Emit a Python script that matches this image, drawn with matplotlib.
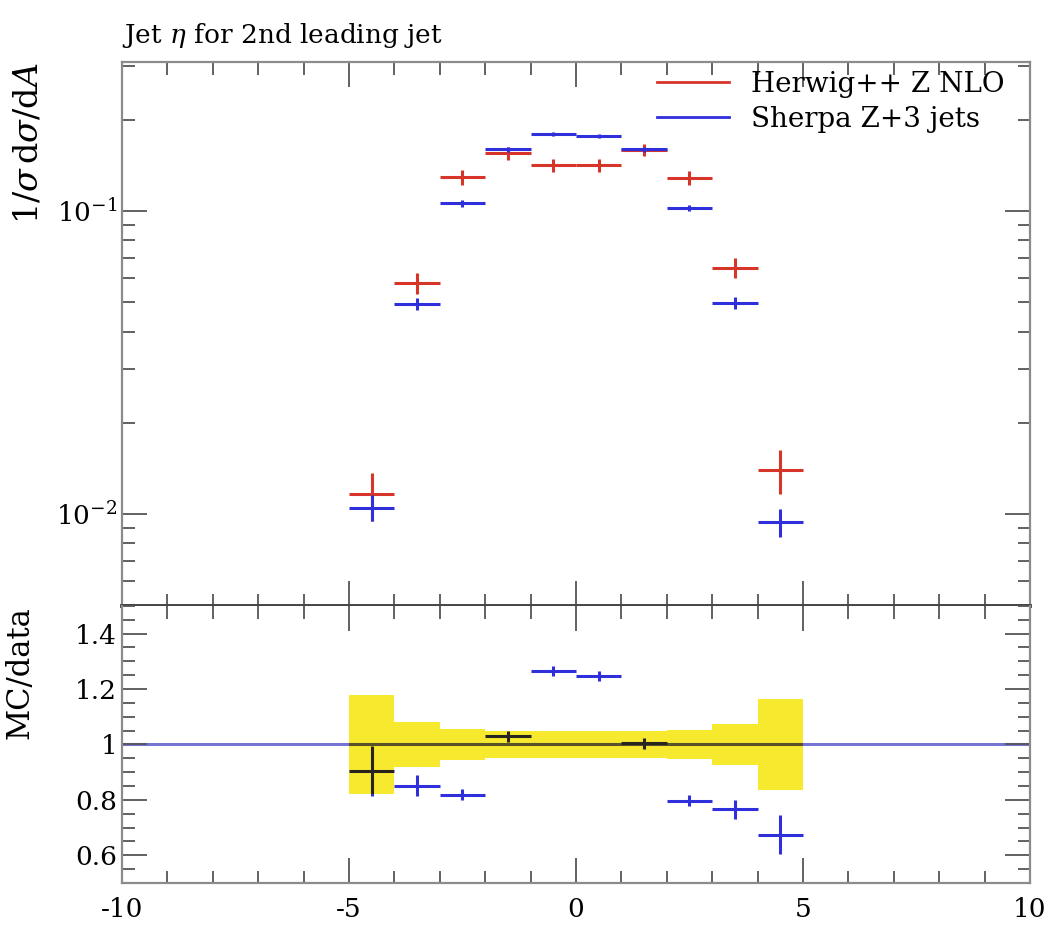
import matplotlib
matplotlib.use('Agg')
import matplotlib.pyplot as plt
from matplotlib.ticker import MultipleLocator, LogLocator, NullFormatter
import numpy as np

# eta bins of the 2nd leading jet
bin_edges = [-5, -4, -3, -2, -1, 0, 1, 2, 3, 4, 5]
eta_centres = [-4.5, -3.5, -2.5, -1.5, -0.5, 0.5, 1.5, 2.5, 3.5, 4.5]

# normalised cross-sections
herwig = [0.0116, 0.058, 0.1295, 0.155, 0.1415, 0.1415, 0.159, 0.1285, 0.065, 0.01395]
sherpa = [0.0105, 0.0494, 0.106, 0.1595, 0.179, 0.1766, 0.1596, 0.1023, 0.0498, 0.00941]

# relative uncertainties
herwig_rel = [0.18, 0.08, 0.056, 0.048, 0.048, 0.048, 0.048, 0.052, 0.075, 0.165]
sherpa_rel = [0.10, 0.045, 0.025, 0.02, 0.015, 0.015, 0.02, 0.025, 0.045, 0.105]

labels = ['Herwig++ Z NLO', 'Sherpa Z+3 jets']

red = '#d8352a'
blue = '#2f2fdc'
yellow = '#f6e92e'
frame = '#8c8c8c'

plt.rcParams['font.family'] = 'DejaVu Serif'
plt.rcParams['mathtext.fontset'] = 'dejavuserif'
plt.rcParams['font.size'] = 19


def style_axis(ax):
    for s in ax.spines.values():
        s.set_color(frame)
        s.set_linewidth(1.6)
    ax.tick_params(which='both', direction='in', top=True, right=True, color='#555555')
    ax.tick_params(which='major', length=18, width=1.3)
    ax.tick_params(which='minor', length=9, width=1.3)
    ax.xaxis.set_major_locator(MultipleLocator(5))
    ax.xaxis.set_minor_locator(MultipleLocator(1))


def main():
    x = np.array(eta_centres)
    h = np.array(herwig)
    s = np.array(sherpa)
    h_err = h * np.array(herwig_rel)
    s_err = s * np.array(sherpa_rel)

    fig = plt.figure(figsize=(10.51, 9.33), dpi=100)
    ax = fig.add_axes([0.116, 0.3505, 0.864, 0.583])
    rax = fig.add_axes([0.116, 0.0536, 0.864, 0.297], sharex=ax)

    # main distribution
    ax.errorbar(x, h, xerr=0.5, yerr=h_err, fmt='none', ecolor=red, elinewidth=2.2, capsize=0)
    ax.errorbar(x, s, xerr=0.5, yerr=s_err, fmt='none', ecolor=blue, elinewidth=2.2, capsize=0)
    ax.plot([], [], color=red, lw=2, label=labels[0])
    ax.plot([], [], color=blue, lw=2, label=labels[1])
    ax.set_yscale('log')
    ax.set_xlim(-10, 10)
    ax.set_ylim(0.00497, 0.31)
    ax.yaxis.set_major_locator(LogLocator(base=10, numticks=10))
    ax.yaxis.set_minor_locator(LogLocator(base=10, subs=np.arange(2, 10), numticks=10))
    ax.yaxis.set_minor_formatter(NullFormatter())
    style_axis(ax)
    ax.tick_params(labelbottom=False)
    ax.set_ylabel(r'$1/\sigma\,\mathrm{d}\sigma/\mathrm{d}A$', loc='top', fontsize=24)
    ax.yaxis.set_label_coords(-0.085, 1.0)
    ax.set_title(r'Jet $\eta$ for 2nd leading jet', loc='left', fontsize=19, pad=14)
    ax.legend(loc='upper right', bbox_to_anchor=(1.0, 1.03), frameon=False, fontsize=20,
              handlelength=2.6, handletextpad=0.8, labelspacing=0.3)
    ax.spines['bottom'].set_color('#444444')
    ax.spines['bottom'].set_linewidth(2.8)

    # ratio panel
    ratio = s / h
    ratio_err = ratio * np.array(sherpa_rel)
    band_lo = np.append(1 - np.array(herwig_rel), 1 - herwig_rel[-1])
    band_hi = np.append(1 + np.array(herwig_rel), 1 + herwig_rel[-1])

    rax.axhline(1.0, color='#7474d2', lw=2.2, zorder=1)
    rax.errorbar(x, ratio, xerr=0.5, yerr=ratio_err, fmt='none', ecolor=blue,
                 elinewidth=2.2, capsize=0, zorder=2)
    band = rax.fill_between(bin_edges, band_lo, band_hi, step='post', color=yellow,
                            lw=0, zorder=3)

    # marks seen through the yellow band come out dark
    clip = band.get_paths()[0]
    ref = rax.plot([-10, 10], [1, 1], color='#5a5228', lw=2.2, zorder=4)[0]
    ref.set_clip_path(clip, rax.transData)
    dark = rax.errorbar(x, ratio, xerr=0.5, yerr=ratio_err, fmt='none', ecolor='#2a2420',
                        elinewidth=2.2, capsize=0, zorder=5)
    for c in dark.lines[2]:
        c.set_clip_path(clip, rax.transData)

    rax.set_ylim(0.5, 1.5)
    rax.yaxis.set_major_locator(MultipleLocator(0.2))
    rax.yaxis.set_minor_locator(MultipleLocator(0.05))
    style_axis(rax)
    rax.spines['top'].set_visible(False)
    rax.set_yticks([0.6, 0.8, 1.0, 1.2, 1.4])
    rax.set_yticklabels(['0.6', '0.8', '1', '1.2', '1.4'])
    rax.set_xticks([-10, -5, 0, 5, 10])
    rax.set_xticklabels(['-10', '-5', '0', '5', '10'])
    rax.tick_params(axis='x', pad=10)
    rax.set_ylabel('MC/data', loc='top', fontsize=22)
    rax.yaxis.set_label_coords(-0.095, 1.0)

    fig.savefig('out.png', dpi=100)


if __name__ == '__main__':
    main()
